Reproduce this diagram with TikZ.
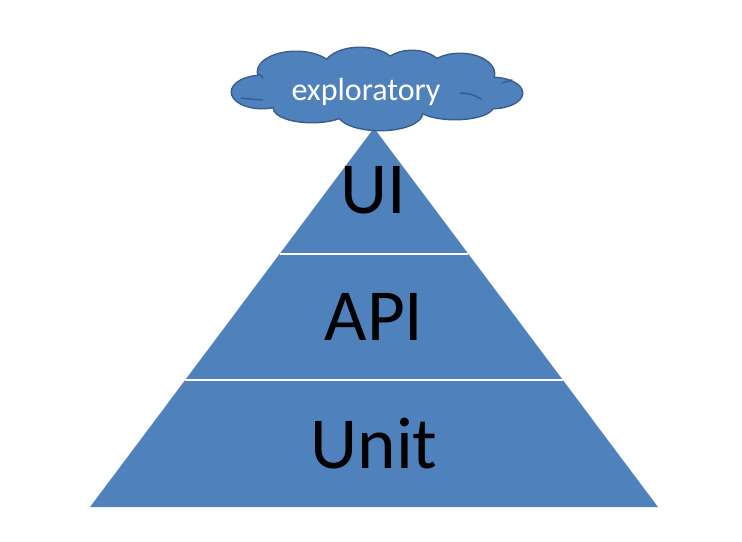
\documentclass[tikz,border=0pt]{standalone}
\usepackage{fontspec}
\setmainfont{Carlito}
\usepackage{tikz}
\usetikzlibrary{calc, positioning}
\definecolor{pyrblue}{HTML}{4F81BD}
\definecolor{pyrbluedk}{HTML}{385D8A}
\tikzset{
  layerfill/.style  = {fill=pyrblue, draw=none},
  layersep/.style   = {draw=white, line width=1.6pt},
  layerlabel/.style = {anchor=base, font=\fontsize{55}{60}\selectfont,
                       text=black, inner sep=0pt},
  puffrim/.style    = {draw=pyrbluedk, line width=2.2pt},
  pufffill/.style   = {fill=pyrblue},
  puffcrease/.style = {draw=pyrbluedk, line width=1.1pt, line cap=round},
  cloudlabel/.style = {anchor=base, font=\fontsize{24}{28}\selectfont,
                       text=white, inner sep=0pt},
}
\begin{document}
\begin{tikzpicture}[x=0.75pt, y=-0.75pt]
  \useasboundingbox (0,0) rectangle (742,542);
  \coordinate (apex) at (374,128);
  \coordinate (baseL) at (90,507);
  \coordinate (baseR) at (658,507);
  \coordinate (sepAL) at ($(apex)!0.3325!(baseL)$);
  \coordinate (sepAR) at ($(apex)!0.3325!(baseR)$);
  \coordinate (sepBL) at ($(apex)!0.665!(baseL)$);
  \coordinate (sepBR) at ($(apex)!0.665!(baseR)$);
  \fill[layerfill] (apex) -- (baseL) -- (baseR) -- cycle;
  \draw[layersep] (sepAL) -- (sepAR);
  \draw[layersep] (sepBL) -- (sepBR);
  \node[layerlabel] (ui) at (373,213) {UI};
  \node[layerlabel] (api) at (374,340) {API};
  \node[layerlabel] (unit) at (374,468) {Unit};
  % cloud: union of puffs, rim first then fill
  \foreach \style in {puffrim, pufffill}
    \foreach \cx/\cy/\rx/\ry in {262/92/30/16, 296/72/38/20, 360/68/36/20,
        412/70/30/19, 460/74/34/20, 492/93/30/15, 455/106/38/13,
        380/113/42/17, 312/108/38/14, 377/90/110/24}
      \path[\style] (\cx,\cy) ellipse [x radius=\rx, y radius=\ry];
  % small creases inside the cloud
  \draw[puffcrease] (241,98) .. controls (250,99) .. (262,100);
  \draw[puffcrease] (258,74) .. controls (261,75) .. (263,78);
  \draw[puffcrease] (460,93) .. controls (472,94) .. (481,99);
  \draw[puffcrease] (502,83) .. controls (507,82) .. (512,80);
  \node[cloudlabel] (explorelab) at (366,100) {exploratory};
\end{tikzpicture}
\end{document}
